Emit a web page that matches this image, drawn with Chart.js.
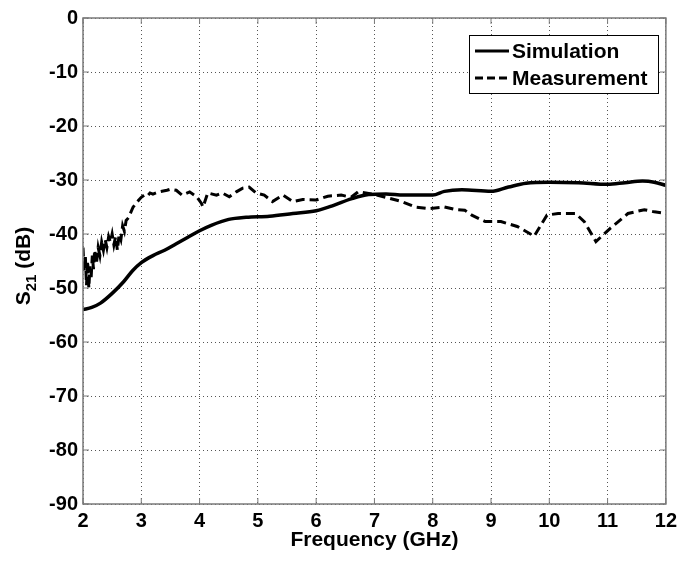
<!DOCTYPE html>
<html>
<head>
<meta charset="utf-8">
<script src="https://cdn.jsdelivr.net/npm/chart.js@4"></script>
<style>
  html, body { margin: 0; padding: 0; background: #fff; }
  canvas { display: block; }
</style>
</head>
<body>
<canvas id="s21-chart" width="682" height="561"></canvas>
<script>
// frequency axis (GHz) and values (dB)
const simFreq = [2.0, 2.15, 2.3, 2.5, 2.7, 2.85, 3.0, 3.2, 3.4, 3.6, 3.8, 4.0, 4.2, 4.5, 4.8, 5.2, 5.6, 6.0, 6.3, 6.6, 6.9, 7.2, 7.5, 8.0, 8.2, 8.5, 9.0, 9.3, 9.6, 10.0, 10.5, 11.0, 11.3, 11.6, 11.8, 12.0];
const simDb = [-54, -53.6, -52.8, -51, -48.8, -46.8, -45.3, -44, -43, -41.8, -40.6, -39.4, -38.4, -37.3, -36.9, -36.7, -36.2, -35.7, -34.7, -33.5, -32.7, -32.6, -32.8, -32.8, -32.1, -31.8, -32.1, -31.3, -30.6, -30.4, -30.5, -30.8, -30.5, -30.2, -30.4, -31];

const measFreq = [2.0, 2.02, 2.04, 2.06, 2.08, 2.1, 2.12, 2.14, 2.16, 2.18, 2.2, 2.23, 2.26, 2.29, 2.32, 2.35, 2.38, 2.41, 2.44, 2.47, 2.5, 2.53, 2.56, 2.59, 2.62, 2.65, 2.68, 2.71, 2.74, 2.78, 2.82, 2.86, 2.9, 2.95, 3.0, 3.05, 3.1, 3.15, 3.2, 3.3, 3.44, 3.5, 3.6, 3.7, 3.83, 3.95, 4.03, 4.06, 4.14, 4.29, 4.39, 4.51, 4.63, 4.74, 4.85, 4.97, 5.11, 5.25, 5.43, 5.6, 5.77, 6.0, 6.2, 6.43, 6.6, 6.72, 6.96, 7.19, 7.47, 7.7, 7.93, 8.2, 8.4, 8.55, 8.67, 8.9, 9.17, 9.45, 9.74, 9.96, 10.15, 10.45, 10.6, 10.8, 11.05, 11.35, 11.63, 11.8, 12.0];
const measDb = [-42.5, -47, -44, -49.5, -45, -50, -46, -48, -44, -46.5, -43, -45.5, -42.5, -44, -41.5, -43, -41, -42.5, -40.5, -41.5, -40, -42, -40.5, -43, -40, -41, -38.5, -39.5, -37.5, -37, -36, -35, -34.5, -33.8, -33.2, -32.8, -33, -32.4, -32.6, -32.2, -31.9, -31.7, -31.9, -32.8, -32.2, -33.1, -34.3, -35, -32.4, -32.8, -32.4, -33.1, -32.2, -31.5, -31.3, -32.4, -32.8, -34, -32.8, -34, -33.6, -33.7, -33, -32.8, -33.2, -32.2, -32.6, -33.2, -34, -35, -35.3, -35, -35.5, -35.6, -36.5, -37.7, -37.7, -38.6, -40.4, -36.5, -36.2, -36.2, -37.7, -41.4, -38.9, -36.2, -35.5, -35.9, -36.2];

const xTicks = [2, 3, 4, 5, 6, 7, 8, 9, 10, 11, 12];
const yTicks = [0, -10, -20, -30, -40, -50, -60, -70, -80, -90];

const seriesNames = ['Simulation', 'Measurement'];

const font = 'Liberation Sans, Arial, sans-serif';
const axisGray = '#7a7a7a';

function toPoints(xs, ys) {
  return xs.map((x, i) => ({ x: x, y: ys[i] }));
}

// box round the plot + inward tick marks, like matlab
const boxPlugin = {
  id: 'box',
  afterDatasetsDraw(chart) {
    const ctx = chart.ctx;
    const a = chart.chartArea;
    const xs = chart.scales.x;
    const ys = chart.scales.y;
    ctx.save();
    ctx.strokeStyle = axisGray;
    ctx.lineWidth = 1.5;
    ctx.setLineDash([]);
    ctx.strokeRect(a.left, a.top, a.right - a.left, a.bottom - a.top);
    ctx.lineWidth = 1;
    const tl = 6;
    ctx.beginPath();
    xTicks.forEach(v => {
      const px = xs.getPixelForValue(v);
      ctx.moveTo(px, a.bottom); ctx.lineTo(px, a.bottom - tl);
      ctx.moveTo(px, a.top); ctx.lineTo(px, a.top + tl);
    });
    yTicks.forEach(v => {
      const py = ys.getPixelForValue(v);
      ctx.moveTo(a.left, py); ctx.lineTo(a.left + tl, py);
      ctx.moveTo(a.right, py); ctx.lineTo(a.right - tl, py);
    });
    ctx.stroke();
    ctx.restore();
  }
};

// y title with the subscript, and the legend box
const labelPlugin = {
  id: 'labels',
  afterDraw(chart) {
    const ctx = chart.ctx;
    const a = chart.chartArea;
    ctx.save();
    ctx.fillStyle = '#000';
    ctx.textBaseline = 'alphabetic';

    // S21 (dB)
    const big = 'bold 21px ' + font;
    const small = 'bold 15px ' + font;
    ctx.font = big;
    const wS = ctx.measureText('S').width;
    const wRest = ctx.measureText(' (dB)').width;
    ctx.font = small;
    const wSub = ctx.measureText('21').width;
    const total = wS + wSub + wRest;
    ctx.translate(30, (a.top + a.bottom) / 2 + 5);
    ctx.rotate(-Math.PI / 2);
    let x = -total / 2;
    ctx.font = big;
    ctx.fillText('S', x, 0);
    x += wS;
    ctx.font = small;
    ctx.fillText('21', x, 6);
    x += wSub;
    ctx.font = big;
    ctx.fillText(' (dB)', x, 0);
    ctx.setTransform(1, 0, 0, 1, 0, 0);

    // legend
    const bx = 469, by = 35, bw = 189, bh = 58;
    ctx.fillStyle = '#fff';
    ctx.fillRect(bx, by, bw, bh);
    ctx.strokeStyle = '#000';
    ctx.lineWidth = 1;
    ctx.strokeRect(bx + 0.5, by + 0.5, bw, bh);
    const rows = [by + 16, by + 43];
    chart.data.datasets.forEach((ds, i) => {
      ctx.beginPath();
      ctx.setLineDash(i === 0 ? [] : [8, 4]);
      ctx.lineWidth = 3;
      ctx.strokeStyle = '#000';
      ctx.moveTo(475, rows[i]);
      ctx.lineTo(509, rows[i]);
      ctx.stroke();
      ctx.setLineDash([]);
      ctx.fillStyle = '#000';
      ctx.font = 'bold 21px ' + font;
      ctx.textBaseline = 'middle';
      ctx.fillText(ds.label, 512, rows[i] + 1);
    });
    ctx.restore();
  }
};

const s21Chart = new Chart(document.getElementById('s21-chart'), {
  type: 'line',
  data: {
    datasets: [
      {
        label: seriesNames[0],
        data: toPoints(simFreq, simDb),
        borderColor: '#000',
        borderWidth: 3.5,
        pointRadius: 0,
        cubicInterpolationMode: 'monotone',
        fill: false
      },
      {
        label: seriesNames[1],
        data: toPoints(measFreq, measDb),
        borderColor: '#000',
        borderWidth: 3,
        borderDash: [9, 5],
        pointRadius: 0,
        tension: 0,
        fill: false
      }
    ]
  },
  options: {
    responsive: false,
    animation: false,
    devicePixelRatio: 1,
    layout: { padding: { left: 0, right: 14, top: 18, bottom: 0 } },
    plugins: {
      legend: { display: false },
      tooltip: { enabled: false }
    },
    scales: {
      x: {
        type: 'linear',
        min: 2,
        max: 12,
        afterBuildTicks: s => { s.ticks = xTicks.map(v => ({ value: v })); },
        afterFit: s => { s.height = 57; },
        border: { display: false, dash: [1, 3] },
        grid: {
          drawTicks: false,
          color: '#555',
          lineWidth: 1
        },
        ticks: {
          color: '#000',
          padding: 5,
          maxRotation: 0,
          font: { family: font, size: 20, weight: 'bold' }
        },
        title: {
          display: true,
          text: 'Frequency (GHz)',
          color: '#000',
          padding: { top: 0, bottom: 8 },
          font: { family: font, size: 21, weight: 'bold' }
        }
      },
      y: {
        type: 'linear',
        min: -90,
        max: 0,
        afterBuildTicks: s => { s.ticks = yTicks.map(v => ({ value: v })); },
        afterFit: s => { s.width = 83; },
        border: { display: false, dash: [1, 3] },
        grid: {
          drawTicks: false,
          color: '#555',
          lineWidth: 1
        },
        ticks: {
          color: '#000',
          padding: 5,
          font: { family: font, size: 20, weight: 'bold' }
        }
      }
    }
  },
  plugins: [boxPlugin, labelPlugin]
});
</script>
</body>
</html>
